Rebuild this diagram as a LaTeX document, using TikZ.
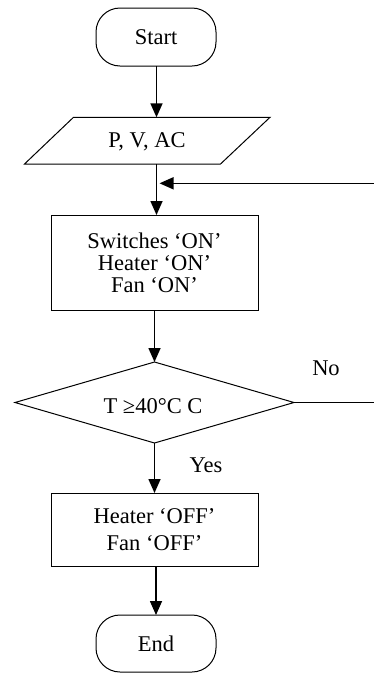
\documentclass[tikz,border=0pt]{standalone}
\usepackage{fontspec}
\setmainfont{Liberation Serif}
\usetikzlibrary{shapes.geometric,arrows.meta}
\begin{document}
\begin{tikzpicture}[x=1pt,y=-1pt,
  every node/.style={font=\fontsize{22.5}{22}\selectfont, inner sep=0pt, outer sep=0pt},
  term/.style={draw, line width=1pt, rounded corners=24pt, minimum width=120pt, minimum height=58pt},
  procbox/.style={draw, line width=1pt, minimum width=207pt, align=center},
  decbox/.style={draw, line width=1pt, diamond, aspect=3.44, minimum width=279pt, minimum height=81pt},
  flow/.style={line width=1.6pt, -{Triangle[width=12pt,length=14pt]}},
  plain/.style={line width=1.2pt}
]
\useasboundingbox (0,0) rectangle (374,673);
\fill[white] (0,0) rectangle (374,673);

\node[term] (start) at (156,37) {Start};

\draw[line width=1pt] (73.5,117.3) -- (270,117.3) -- (220.5,164) -- (24.5,164) -- cycle;
\node (input) at (147,141.5) {P, V, AC};
\coordinate (intop) at (156.5,117.3);
\coordinate (inbot) at (156.5,164);

\node[procbox, minimum height=95pt, font=\fontsize{22.5}{22}\selectfont] (r1) at (154.5,262.5) {Switches ‘ON’\\Heater ‘ON’\\Fan ‘ON’};

\node[decbox] (dec) at (154.5,402.5) {};
\node (dectext) at (153,406) {T ≥40°C C};

\node[procbox, minimum height=73pt, font=\fontsize{22.5}{27}\selectfont] (r2) at (154.5,529.5) {Heater ‘OFF’\\Fan ‘OFF’};

\node[term, minimum height=57pt] (end) at (156,643.5) {End};

\coordinate (noend) at (374,402.5);
\coordinate (fbstart) at (374,183.3);
\coordinate (fbend) at (159.5,183.3);

\draw[flow] (start.south -| intop) -- (intop);
\draw[flow] (inbot) -- (inbot |- r1.north);
\draw[flow] (r1.south -| dec.north) -- (dec.north);
\draw[flow] (dec.south) -- (dec.south |- r2.north);
\draw[flow] (r2.south -| end.north) -- (end.north);
\draw[plain] (dec.east) -- (noend);
\draw[flow] (fbstart) -- (fbend);

\node (no) at (326,368) {No};
\node (yes) at (206,465) {Yes};
\end{tikzpicture}
\end{document}
